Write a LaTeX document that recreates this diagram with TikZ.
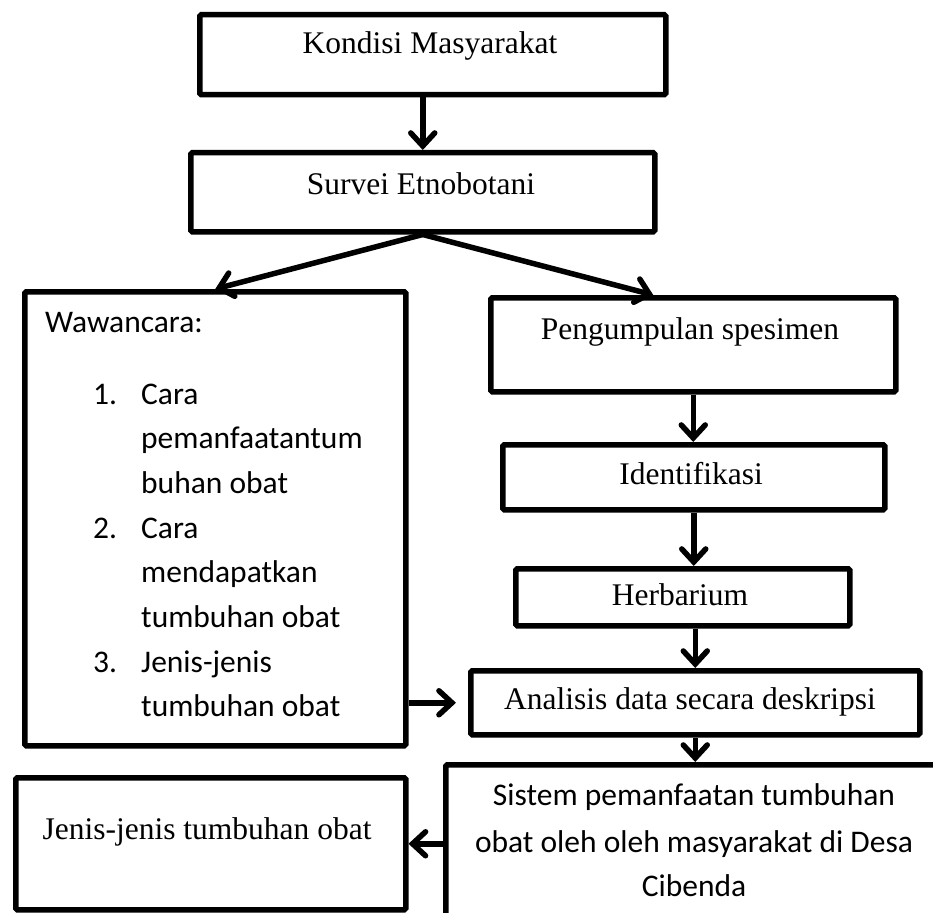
\documentclass[tikz,border=0pt]{standalone}
\usepackage{fontspec}
\setmainfont{Liberation Serif}
\newfontfamily\calibri{Carlito}
\usepackage{tikz}
\usetikzlibrary{arrows.meta}

\tikzset{
  box/.style={draw, line width=5.5pt, rounded corners=1.5pt, inner sep=0pt, anchor=north west},
  serif/.style={font=\fontsize{31.5}{38}\selectfont, inner sep=0pt, anchor=base},
  sans/.style={font=\calibri\fontsize{31.5}{38}\selectfont, inner sep=0pt, anchor=base},
  flow/.style={line width=5.5pt, line join=round, -{Straight Barb[length=13pt,width=24pt,line cap=round]}}
}

\begin{document}
\begin{tikzpicture}[x=1pt, y=-1pt]
\useasboundingbox (0,0) rectangle (933,912);
\clip (0,0) rectangle (933,912);

% Boxes
\node[box, minimum width=466pt, minimum height=80pt] (kondisi) at (197,12) {};
\node[box, minimum width=464pt, minimum height=79pt] (survei) at (188,150) {};
\node[box, minimum width=381pt, minimum height=454pt] (wawancara) at (22,289) {};
\node[box, minimum width=405pt, minimum height=94pt] (pengumpulan) at (488,295) {};
\node[box, minimum width=382pt, minimum height=65pt] (identifikasi) at (500,442) {};
\node[box, minimum width=334pt, minimum height=57pt] (herbarium) at (513,566) {};
\node[box, minimum width=449pt, minimum height=64pt] (analisis) at (468,668) {};
\node[box, minimum width=502pt, minimum height=160pt] (sistem) at (443,762) {};
\node[box, minimum width=390pt, minimum height=132pt] (jenis) at (13,775) {};

% Labels
\node[serif] (kondisiT) at (430,54) {Kondisi Masyarakat};
\node[serif] (surveiT) at (421,194) {Survei Etnobotani};
\node[serif] (pengumpulanT) at (690,339) {Pengumpulan spesimen};
\node[serif] (identifikasiT) at (691,484) {Identifikasi};
\node[serif] (herbariumT) at (680,605) {Herbarium};
\node[serif] (analisisT) at (690,709) {Analisis data secara deskripsi};
\node[serif] (jenisT) at (207,839) {Jenis-jenis tumbuhan obat};
\node[sans] (sistemA) at (694,805) {Sistem pemanfaatan tumbuhan};
\node[sans] (sistemB) at (694,852) {obat oleh oleh masyarakat di Desa};
\node[sans] (sistemC) at (694,896) {Cibenda};

% Wawancara list
\node[sans, anchor=base west] (wawancaraT) at (45,332) {Wawancara:};
\foreach \txt [count=\i] in {Cara, pemanfaatantum, buhan obat, Cara, mendapatkan, tumbuhan obat, Jenis-jenis, tumbuhan obat} {
    \node[sans, anchor=base west] (item\i) at (141,404+44.7*\i-44.7) {\txt};
}
\foreach \n/\i in {1/1, 2/4, 3/7} {
    \node[sans, anchor=base west] (num\n) at (93,404+44.7*\i-44.7) {\n.};
}

% Arrows
\draw[flow] (kondisi.south -| survei.north) -- (survei.north);
\draw[flow] (survei.south) -- (wawancara.north);
\draw[flow] (survei.south) -- ([xshift=-40pt]pengumpulan.north);
\draw[flow] (pengumpulan.south) -- (pengumpulan.south |- identifikasi.north);
\draw[flow] (identifikasi.south) -- (identifikasi.south |- herbarium.north);
\draw[flow] (analisis.north |- herbarium.south) -- (analisis.north);
\draw[flow] (analisis.south) -- (analisis.south |- sistem.north);
\draw[flow, shorten >=12pt] (wawancara.east |- analisis.west) -- (analisis.west);
\draw[flow] (sistem.west |- jenis.east) -- (jenis.east);
\end{tikzpicture}
\end{document}
